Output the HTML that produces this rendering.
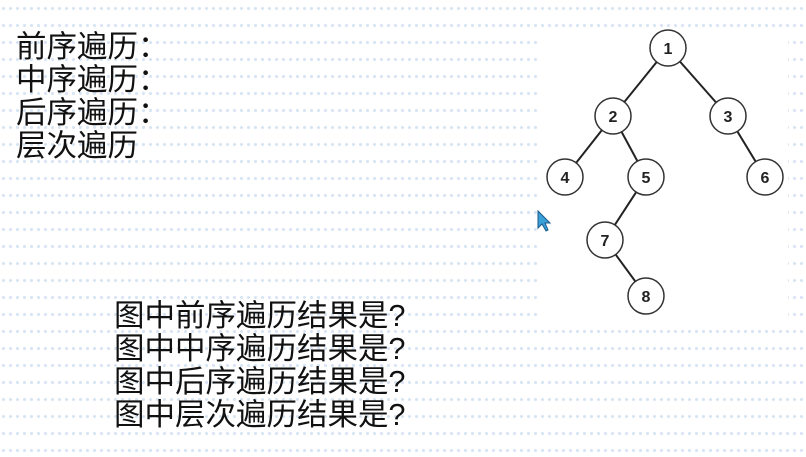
<!DOCTYPE html>
<html><head><meta charset="utf-8"><style>
body{margin:0;width:806px;height:457px;overflow:hidden;position:relative;background:#fff;
background-image:radial-gradient(circle,#d6e4f4 1.3px,transparent 1.8px);background-size:7px 17px;}
.t{position:absolute;font-family:"Liberation Sans","Noto Sans CJK SC",sans-serif;color:#111;font-size:30.5px;line-height:33px;white-space:nowrap}
</style></head><body>
<div class="t" style="left:16px;top:31px">前序遍历：<br>中序遍历：<br>后序遍历：<br>层次遍历</div>
<div class="t" style="left:114px;top:300px">图中前序遍历结果是?<br>图中中序遍历结果是?<br>图中后序遍历结果是?<br>图中层次遍历结果是?</div>
<svg width="806" height="457" style="position:absolute;left:0;top:0">
<rect x="538" y="30" width="250" height="290" fill="#fff"/>
<g stroke="#222" stroke-width="2">
<line x1="668" y1="48" x2="613" y2="116"/><line x1="668" y1="48" x2="728" y2="116"/>
<line x1="613" y1="116" x2="565" y2="177"/><line x1="613" y1="116" x2="646" y2="177"/>
<line x1="728" y1="116" x2="765" y2="177"/><line x1="646" y1="177" x2="605" y2="240"/>
<line x1="605" y1="240" x2="646" y2="296"/></g>
<g fill="#fff" stroke="#333" stroke-width="1.5">
<circle cx="668" cy="48" r="18"/><circle cx="613" cy="116" r="18"/><circle cx="728" cy="116" r="18"/>
<circle cx="565" cy="177" r="18"/><circle cx="646" cy="177" r="18"/><circle cx="765" cy="177" r="18"/>
<circle cx="605" cy="240" r="18"/><circle cx="646" cy="296" r="18"/></g>
<g font-family="Liberation Sans,sans-serif" font-weight="bold" font-size="16" text-anchor="middle" fill="#222">
<text x="668" y="54">1</text><text x="613" y="122">2</text><text x="728" y="122">3</text>
<text x="565" y="183">4</text><text x="646" y="183">5</text><text x="765" y="183">6</text>
<text x="605" y="246">7</text><text x="646" y="302">8</text></g>
<path d="M538 211 L538 228 L542 224 L546 231 L548 230 L545 223 L550 223 Z" fill="#3aa0d8" stroke="#1a5a8a" stroke-width="1"/>
</svg>
</body></html>
